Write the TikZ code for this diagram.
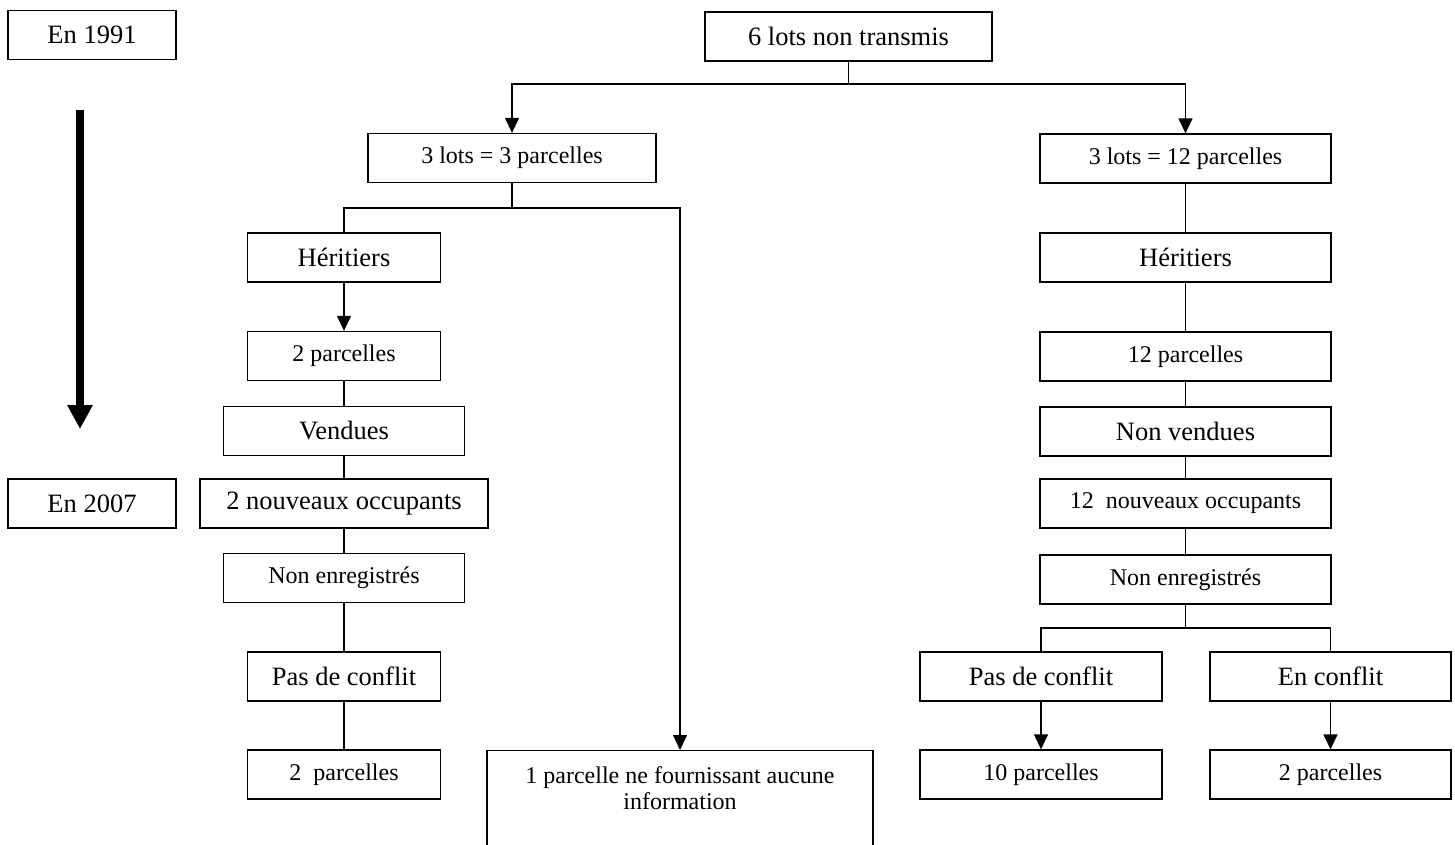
\documentclass[tikz,border=0pt]{standalone}
\usepackage{fontspec}
\setmainfont{Liberation Serif}
\usetikzlibrary{positioning,arrows.meta}
\newcommand{\grand}{\fontsize{26.5}{30}\selectfont}
\newcommand{\petit}{\fontsize{24}{25.5}\selectfont}

\begin{document}
\begin{tikzpicture}[x=1pt,y=-1pt,
      boite/.style={draw,line width=1.3pt,inner sep=0pt,align=center,font=\grand,
                  minimum height=49pt},
      boitep/.style={boite,font=\petit},
      fl/.style={-{Triangle[length=15pt,width=14pt]},line width=1.3pt},
      ln/.style={line width=1.3pt},
      temps/.style={-{Triangle[length=24pt,width=24pt]},line width=8pt}]
    \useasboundingbox (0,0) rectangle (1455,845);
    \clip (0,0) rectangle (1455,845);
    % axe du temps
    \node[boite,minimum width=168pt] (y1991) at (92,35) {En 1991};
    \node[boite,minimum width=168pt] (y2007) at (92,503.5) {En 2007};
    \coordinate (t0) at (80,110);
    \coordinate (t1) at (80,429);
    \draw[temps] (t0) -- (t1);
    % racine
    \node[boite,minimum width=287pt] (root) at (848.5,36.5) {6 lots non transmis};
    \node[boitep,minimum width=288pt] (L1) at (512,158) {3 lots = 3 parcelles};
    \node[boitep,minimum width=291pt] (R1) at (1185.5,158.5) {3 lots = 12 parcelles};
    % branche gauche
    \node[boite,minimum width=193pt] (Lher) at (344,257.5) {Héritiers};
    \node[boitep,minimum width=193pt] (Lp2) at (344,356) {2 parcelles};
    \node[boite,minimum width=241pt] (Lvend) at (344,431) {Vendues};
    \node[boite,minimum width=288pt] (Lnouv) at (344,503.5) {2 nouveaux occupants};
    \node[boitep,minimum width=241pt] (Lnonenr) at (344,578) {Non enregistrés};
    \node[boite,minimum width=193pt] (Lpas) at (344,676.5) {Pas de conflit};
    \node[boitep,minimum width=193pt] (Lpar) at (344,774.5) {2\ \ parcelles};
    \node[boitep,anchor=north,minimum width=386pt,inner ysep=16pt,
          text depth=70pt] (Lone) at (680,750) {1 parcelle ne fournissant aucune\\information};
    % branche droite
    \node[boite,minimum width=291pt] (Rher) at (1185.5,257.5) {Héritiers};
    \node[boitep,minimum width=291pt] (Rp12) at (1185.5,356.5) {12 parcelles};
    \node[boite,minimum width=291pt] (Rnv) at (1185.5,431.5) {Non vendues};
    \node[boitep,minimum width=291pt] (Rnouv) at (1185.5,503.5) {12\ \ nouveaux occupants};
    \node[boitep,minimum width=291pt] (Rnonenr) at (1185.5,579.5) {Non enregistrés};
    \node[boite,minimum width=242pt] (Rpas) at (1041,676.5) {Pas de conflit};
    \node[boite,minimum width=241pt] (Rconf) at (1330.5,676.5) {En conflit};
    \node[boitep,minimum width=242pt] (R10) at (1041,774.5) {10 parcelles};
    \node[boitep,minimum width=241pt] (R2) at (1330.5,774.5) {2 parcelles};
    % connexions
    \coordinate (jr) at (848.5,84);
    \coordinate (jl) at (512,208);
    \coordinate (jd) at (1185.5,628);
    \draw[ln] (root) -- (jr);
    \draw[fl] (jr) -| (L1);
    \draw[fl] (jr) -| (R1);
    \draw[ln] (L1) -- (jl);
    \draw[ln] (jl) -| (Lher);
    \draw[fl] (jl) -| (Lone);
    \draw[fl] (Lher) -- (Lp2);
    \draw[ln] (Lp2) -- (Lvend);
    \draw[ln] (Lvend) -- (Lnouv);
    \draw[ln] (Lnouv) -- (Lnonenr);
    \draw[ln] (Lnonenr) -- (Lpas);
    \draw[ln] (Lpas) -- (Lpar);
    \draw[ln] (R1) -- (Rher);
    \draw[ln] (Rher) -- (Rp12);
    \draw[ln] (Rp12) -- (Rnv);
    \draw[ln] (Rnv) -- (Rnouv);
    \draw[ln] (Rnouv) -- (Rnonenr);
    \draw[ln] (Rnonenr) -- (jd);
    \draw[ln] (jd) -| (Rpas);
    \draw[ln] (jd) -| (Rconf);
    \draw[fl] (Rpas) -- (R10);
    \draw[fl] (Rconf) -- (R2);
\end{tikzpicture}
\end{document}
